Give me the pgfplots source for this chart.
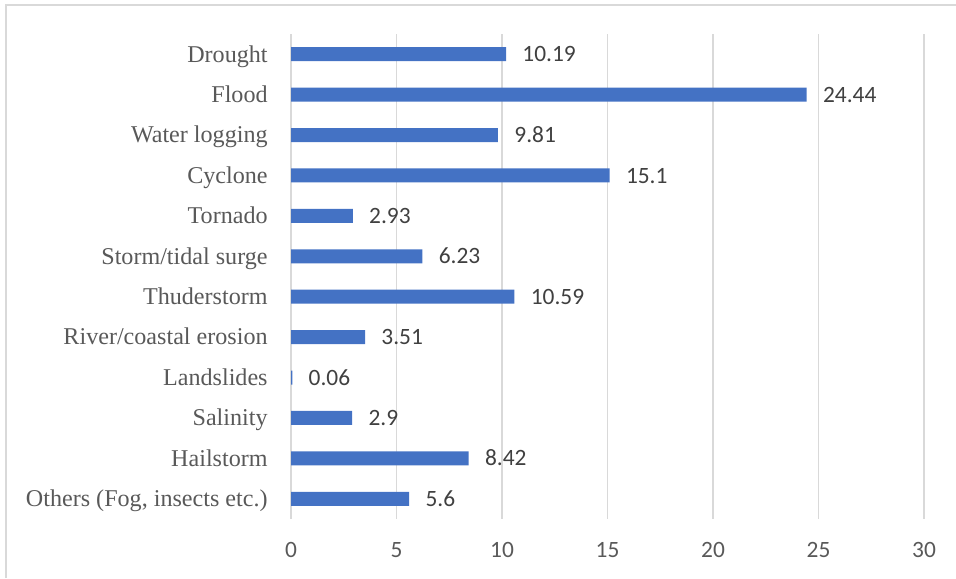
\documentclass[border=0pt]{standalone}
\usepackage{fontspec}
\setmainfont{Liberation Serif}
\newfontfamily\calib{Carlito}
\usepackage{pgfplots}
\pgfplotsset{compat=1.18}
\definecolor{barblue}{HTML}{4472C4}
\definecolor{gridgray}{HTML}{D9D9D9}
\definecolor{txtgray}{HTML}{595959}
\definecolor{valgray}{HTML}{404040}
\begin{document}
\begin{tikzpicture}
\path[use as bounding box] (0,0) rectangle (478pt,289pt);
\draw[gridgray, line width=0.6pt] (3pt,0) -- (3pt,286.5pt) -- (478pt,286.5pt);
\begin{axis}[
  at={(145.5pt,29.5pt)}, anchor=south west,
  scale only axis, width=316.5pt, height=242.5pt,
  xbar, bar width=7pt,
  xmin=0, xmax=30, ymin=-0.5, ymax=11.5,
  y dir=reverse,
  axis line style={draw=none},
  xtick={0,5,...,30},
  ytick={0,...,11},
  yticklabels={Drought,Flood,Water logging,Cyclone,Tornado,Storm/tidal surge,Thuderstorm,River/coastal erosion,Landslides,Salinity,Hailstorm,{Others (Fog, insects etc.)}},
  major tick length=0pt,
  tick style={draw=none},
  xmajorgrids, grid style={gridgray, line width=0.75pt},
  /pgf/number format/assume math mode=true,
  xticklabel style={font=\calib\fontsize{11.7}{14}\selectfont, text=txtgray, inner sep=0pt, anchor=north, yshift=-11.5pt},
  yticklabel style={font=\fontsize{12.05}{14}\selectfont, text=txtgray, inner sep=0pt, anchor=base east, xshift=-11.5pt, yshift=-0.331em-0.6pt},
  point meta=explicit symbolic,
  nodes near coords,
  every node near coord/.append style={font=\calib\fontsize{11.7}{14}\selectfont, text=valgray, inner sep=0pt, anchor=base west, xshift=8pt, yshift=-0.32em-0.6pt},
  clip=false,
]
\addplot[fill=barblue, draw=none] coordinates {
  (10.19,0) [10.19]
  (24.44,1) [24.44]
  (9.81,2) [9.81]
  (15.1,3) [15.1]
  (2.93,4) [2.93]
  (6.23,5) [6.23]
  (10.59,6) [10.59]
  (3.51,7) [3.51]
  (0.06,8) [0.06]
  (2.9,9) [2.9]
  (8.42,10) [8.42]
  (5.6,11) [5.6]
};
\end{axis}
\end{tikzpicture}
\end{document}
